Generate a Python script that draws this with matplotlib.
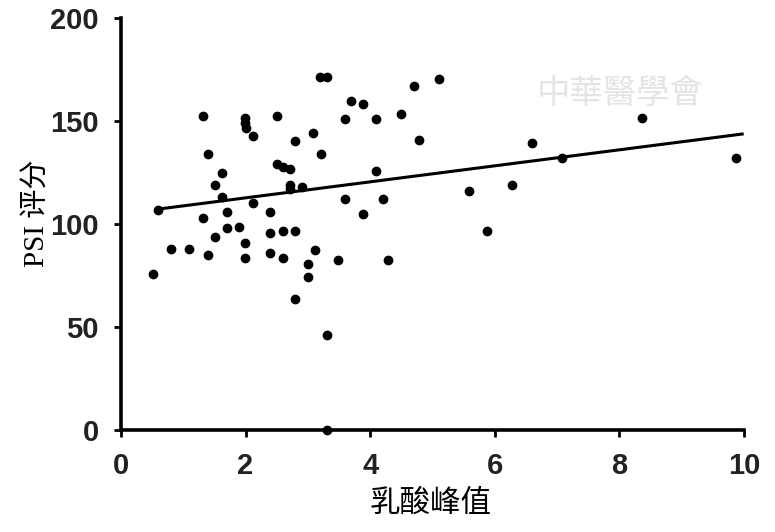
import matplotlib
matplotlib.use("Agg")
import matplotlib.pyplot as plt
import numpy as np

# Data
lactate = [0.51, 0.59, 0.80, 1.09, 1.31, 1.31, 1.39, 1.39, 1.51, 1.51,
           1.62, 1.62, 1.70, 1.70, 1.89, 1.99, 1.99, 2.00, 1.99, 1.99,
           2.12, 2.12, 2.40, 2.40, 2.40, 2.50, 2.50, 2.60, 2.60, 2.60,
           2.71, 2.71, 2.71, 2.79, 2.79, 2.79, 2.90, 3.00, 3.00, 3.09,
           3.11, 3.21, 3.19, 3.30, 3.30, 3.30, 3.49, 3.59, 3.59, 3.70,
           3.89, 3.89, 4.10, 4.10, 4.20, 4.28, 4.49, 4.70, 4.79, 5.10,
           5.58, 5.88, 6.28, 6.59, 7.08, 8.37, 9.87]
psi = [75.7, 106.8, 87.9, 87.9, 152.4, 102.9, 134, 85, 119, 93.7,
       125, 113, 105.8, 98, 98.5, 151.5, 149, 146.6, 90.8, 83.5,
       142.7, 110.2, 105.8, 95.6, 86, 152.4, 129, 127.7, 96.6, 83.5,
       126.7, 119, 117, 140.3, 96.6, 63.6, 118, 80.6, 74.3, 144.2,
       87.4, 134, 171.4, 171.4, 46.1, 0, 82.5, 151, 112, 159.7,
       158.3, 104.9, 151, 125.7, 112, 82.5, 153.4, 167, 140.8, 170.4,
       116, 96.6, 119, 139.3, 132, 151.5, 132]

fit_slope = 3.89
fit_intercept = 104.9
fit_range = [0.59, 9.97]

x_ticks = [0, 2, 4, 6, 8, 10]
y_ticks = [0, 50, 100, 150, 200]
x_label = "乳酸峰值"
y_label = "PSI 评分"

fig = plt.figure(figsize=(7.75, 5.32), dpi=100)
ax = fig.add_axes([0.156, 0.192, 0.804, 0.774])

ax.scatter(lactate, psi, s=36, color="black", zorder=3, clip_on=False)
fx = np.array(fit_range)
ax.plot(fx, fit_slope * fx + fit_intercept, color="black", lw=2.2, zorder=2)

ax.set_xlim(0, 10)
ax.set_ylim(0, 200)
ax.set_xticks(x_ticks)
ax.set_yticks(y_ticks)
for s in ["top", "right"]:
    ax.spines[s].set_visible(False)
for s in ["left", "bottom"]:
    ax.spines[s].set_linewidth(2.6)
ax.tick_params(width=2, length=5, labelsize=21)
ax.tick_params(axis="y", pad=11)
ax.tick_params(axis="x", pad=11)
for lab in ax.get_xticklabels() + ax.get_yticklabels():
    lab.set_fontfamily("Liberation Sans")
    lab.set_fontweight("bold")
    lab.set_color("#222222")

ax.set_xlabel(x_label, fontsize=22, family=["Noto Sans CJK SC", "DejaVu Sans"])
ax.xaxis.set_label_coords(0.497, -0.14)
ax.set_ylabel(y_label, fontsize=21, family=["Liberation Serif", "Noto Sans CJK SC"])
ax.yaxis.set_label_coords(-0.112, 0.527)

fig.text(0.80, 0.825, "中華醫學會", fontsize=24, color="#e4e4e4", style="italic",
         family=["Noto Sans CJK TC"], ha="center", va="center", zorder=0)

fig.savefig("out.png", dpi=100, facecolor="white")
